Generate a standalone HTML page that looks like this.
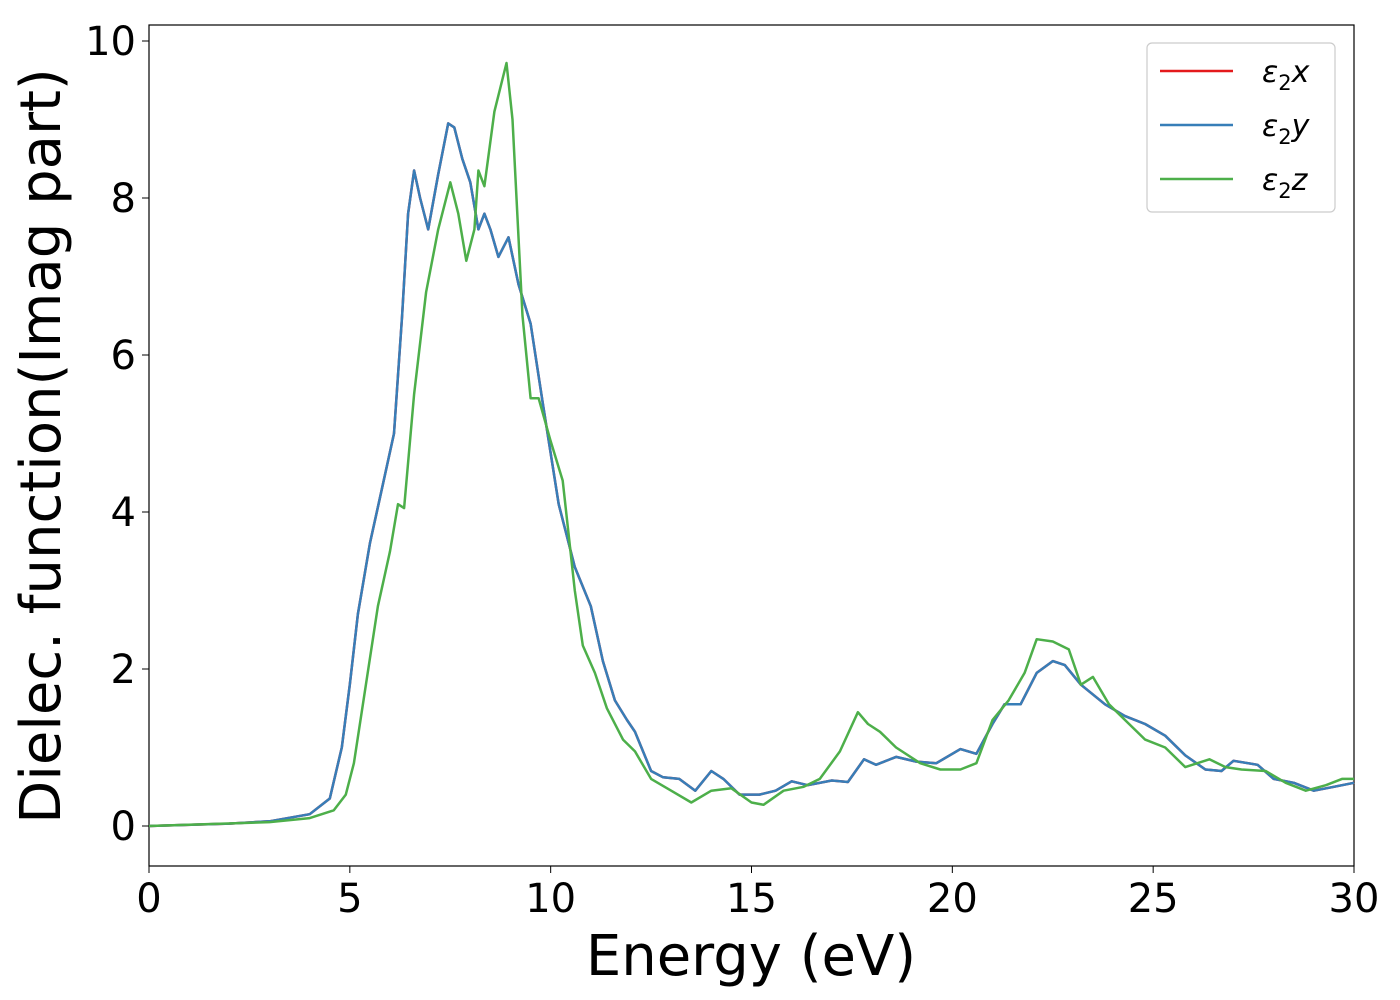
<!DOCTYPE html>
<html><head><meta charset="utf-8"><style>
body{margin:0;background:#fff;}
svg{display:block;font-family:"DejaVu Sans","Liberation Sans",sans-serif;}
</style></head><body>
<svg id="chart" width="1400" height="1000">
<rect x="149" y="25" width="1205" height="841" fill="#fff" stroke="#000" stroke-width="1.2"/>
<g id="ticks"></g>
<g id="series"></g>
<text x="751" y="975" font-size="56" text-anchor="middle">Energy (eV)</text>
<text transform="translate(60,446) rotate(-90)" font-size="56" text-anchor="middle">Dielec. function(Imag part)</text>
<g>
<rect x="1147" y="43" width="188" height="169" rx="5" fill="#fff" stroke="#ccc" stroke-width="1.2"/>
<g><line x1="1160" y1="71" x2="1233" y2="71" stroke="#e41a1c" stroke-width="2.5"/><text x="1262" y="82" font-size="30" font-style="italic">ε<tspan font-size="21" font-style="normal" dy="8">2</tspan><tspan dy="-8">x</tspan></text></g>
<g><line x1="1160" y1="125" x2="1233" y2="125" stroke="#377eb8" stroke-width="2.5"/><text x="1262" y="136" font-size="30" font-style="italic">ε<tspan font-size="21" font-style="normal" dy="8">2</tspan><tspan dy="-8">y</tspan></text></g>
<g><line x1="1160" y1="179" x2="1233" y2="179" stroke="#4daf4a" stroke-width="2.5"/><text x="1262" y="190" font-size="30" font-style="italic">ε<tspan font-size="21" font-style="normal" dy="8">2</tspan><tspan dy="-8">z</tspan></text></g>
</g>
</svg>
<script>
const xTicks=[0,5,10,15,20,25,30];
const yTicks=[0,2,4,6,8,10];
const energyXY=[0,2,3,4,4.5,4.8,5.0,5.2,5.5,5.8,6.1,6.3,6.45,6.6,6.75,6.95,7.2,7.45,7.6,7.8,8.0,8.2,8.35,8.5,8.7,8.95,9.2,9.5,9.8,10.2,10.6,11.0,11.3,11.6,11.9,12.1,12.5,12.8,13.2,13.6,14.0,14.3,14.7,15.2,15.6,16.0,16.4,17.0,17.4,17.8,18.1,18.6,19.1,19.6,20.2,20.6,21.0,21.3,21.7,22.1,22.5,22.8,23.2,23.8,24.3,24.8,25.3,25.8,26.3,26.7,27.0,27.6,28.0,28.5,29.0,29.5,30];
const epsXY=[0,0.03,0.06,0.15,0.35,1.0,1.8,2.7,3.6,4.3,5.0,6.5,7.8,8.35,8.0,7.6,8.3,8.95,8.9,8.5,8.2,7.6,7.8,7.6,7.25,7.5,6.9,6.4,5.4,4.1,3.3,2.8,2.1,1.6,1.35,1.2,0.7,0.62,0.6,0.45,0.7,0.6,0.4,0.4,0.45,0.57,0.52,0.58,0.56,0.85,0.78,0.88,0.82,0.8,0.98,0.92,1.3,1.55,1.55,1.95,2.1,2.05,1.8,1.55,1.4,1.3,1.15,0.9,0.72,0.7,0.83,0.78,0.6,0.55,0.45,0.5,0.55];
const energyZ=[0,3,4,4.6,4.9,5.1,5.4,5.7,6.0,6.2,6.35,6.6,6.9,7.2,7.5,7.7,7.9,8.1,8.2,8.35,8.6,8.9,9.05,9.3,9.5,9.7,10.0,10.3,10.6,10.8,11.1,11.4,11.8,12.1,12.5,13.0,13.5,14.0,14.5,15.0,15.3,15.8,16.3,16.7,17.2,17.65,17.9,18.2,18.6,19.2,19.7,20.2,20.6,21.0,21.4,21.8,22.1,22.5,22.9,23.2,23.5,23.9,24.4,24.8,25.3,25.8,26.4,26.8,27.2,27.8,28.3,28.8,29.3,29.7,30];
const epsZ=[0,0.05,0.1,0.2,0.4,0.8,1.8,2.8,3.5,4.1,4.05,5.5,6.8,7.6,8.2,7.8,7.2,7.6,8.35,8.15,9.1,9.72,9.0,6.5,5.45,5.45,4.9,4.4,3.0,2.3,1.95,1.5,1.1,0.95,0.6,0.45,0.3,0.45,0.48,0.3,0.27,0.45,0.5,0.6,0.95,1.45,1.3,1.2,1.0,0.8,0.72,0.72,0.8,1.35,1.6,1.95,2.38,2.35,2.25,1.8,1.9,1.55,1.3,1.1,1.0,0.75,0.85,0.75,0.72,0.7,0.55,0.45,0.52,0.6,0.6];
const NS="http://www.w3.org/2000/svg";
const X=v=>149+v*(1354-149)/30;
const Y=v=>826-v*78.5;
const tg=document.getElementById('ticks');
xTicks.forEach(t=>{
 const l=document.createElementNS(NS,'line');
 
 
 l.setAttribute('x1',X(t));l.setAttribute('x2',X(t));l.setAttribute('y1',866);l.setAttribute('y2',873);l.setAttribute('stroke','#000');
 tg.appendChild(l);
 const s=document.createElementNS(NS,'text');
 
 
 s.setAttribute('x',X(t));s.setAttribute('y',912);s.setAttribute('font-size','40');s.setAttribute('text-anchor','middle');
 s.textContent=t;tg.appendChild(s);
});
yTicks.forEach(t=>{
 const l=document.createElementNS(NS,'line');
 
 
 l.setAttribute('x1',142);l.setAttribute('x2',149);l.setAttribute('y1',Y(t));l.setAttribute('y2',Y(t));l.setAttribute('stroke','#000');
 tg.appendChild(l);
 const s=document.createElementNS(NS,'text');
 
 
 s.setAttribute('x',136);s.setAttribute('y',Y(t)+14);s.setAttribute('font-size','40');s.setAttribute('text-anchor','end');
 s.textContent=t;tg.appendChild(s);
});
const sg=document.getElementById('series');
function draw(xs,ys,color,name){
 const p=document.createElementNS(NS,'polyline');
 
 
 p.setAttribute('points',xs.map((x,i)=>X(x).toFixed(1)+','+Y(ys[i]).toFixed(1)).join(' '));
 p.setAttribute('fill','none');p.setAttribute('stroke',color);p.setAttribute('stroke-width','2.5');p.setAttribute('stroke-linejoin','round');
 sg.appendChild(p);
}
draw(energyXY,epsXY,'#e41a1c','series-eps2x');
draw(energyXY,epsXY,'#377eb8','series-eps2y');
draw(energyZ,epsZ,'#4daf4a','series-eps2z');
</script>
</body></html>
